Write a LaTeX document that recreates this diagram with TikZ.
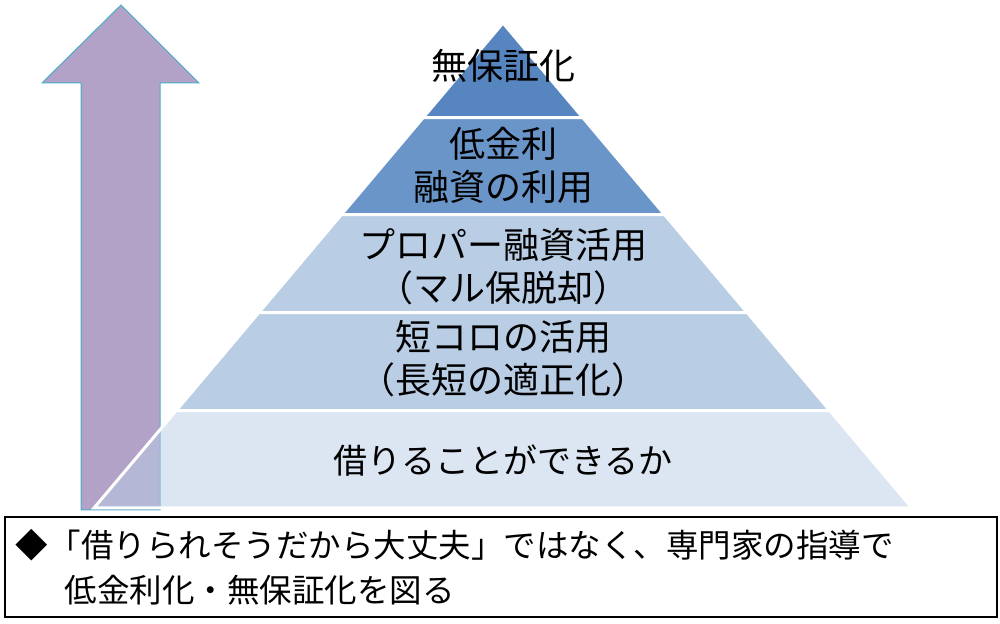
\documentclass[tikz,border=0pt]{standalone}
\usepackage{fontspec}
\setmainfont{Noto Sans CJK JP}
\usetikzlibrary{calc}

\definecolor{arrowfill}{HTML}{B2A2C7}
\definecolor{arrowline}{HTML}{4BACC6}
\definecolor{layerA}{HTML}{5685C0}
\definecolor{layerB}{HTML}{6A95C9}
\definecolor{layerC}{HTML}{B9CDE5}

\begin{document}
\begin{tikzpicture}[
  x=1pt, y=1pt,
  layer/.style={draw=white, line width=3pt},
  label/.style={align=center, inner sep=0pt, font=\fontsize{36}{43}\selectfont},
  note/.style={draw=black, line width=2.5pt, minimum width=992pt, minimum height=100pt,
    text width=970pt, inner xsep=11pt, align=left, font=\fontsize{32.5}{45}\selectfont}
]
  \useasboundingbox (0,0) rectangle (1000,623);

  % arrow
  \draw[fill=arrowfill, draw=arrowline, line width=1pt]
    (81,113) -- (81,540) -- (42,540) -- (121,618) -- (199,540) -- (160,540) -- (160,113) -- cycle;

  % pyramid
  \coordinate (apex) at (503,600);
  \coordinate (bl) at (94,115);
  \coordinate (br) at (912,115);
  \foreach \ta/\tb/\col/\op in {0/0.195/layerA/1, 0.195/0.395/layerB/1,
      0.395/0.597/layerC/1, 0.597/0.799/layerC/1, 0.799/1/layerC/0.5}
    \filldraw[layer, fill=\col, fill opacity=\op]
      ($(apex)!\ta!(bl)$) -- ($(apex)!\tb!(bl)$) -- ($(apex)!\tb!(br)$) -- ($(apex)!\ta!(br)$) -- cycle;

  \node[label] (nogua) at (503,557) {無保証化};
  \node[label] (lowrate) at (503,457.5) {低金利\\融資の利用};
  \node[label] (proper) at (503,356.5) {プロパー融資活用\\（マル保脱却）};
  \node[label] (short) at (503,264) {短コロの活用\\（長短の適正化）};
  \node[label, font=\fontsize{34}{40}\selectfont] (borrow) at (503,162) {借りることができるか};

  % note
  \node[note] (msg) at (501,56)
    {◆「借りられそうだから大丈夫」ではなく、専門家の指導で\\\hspace*{1.5em}低金利化・無保証化を図る};
\end{tikzpicture}
\end{document}
